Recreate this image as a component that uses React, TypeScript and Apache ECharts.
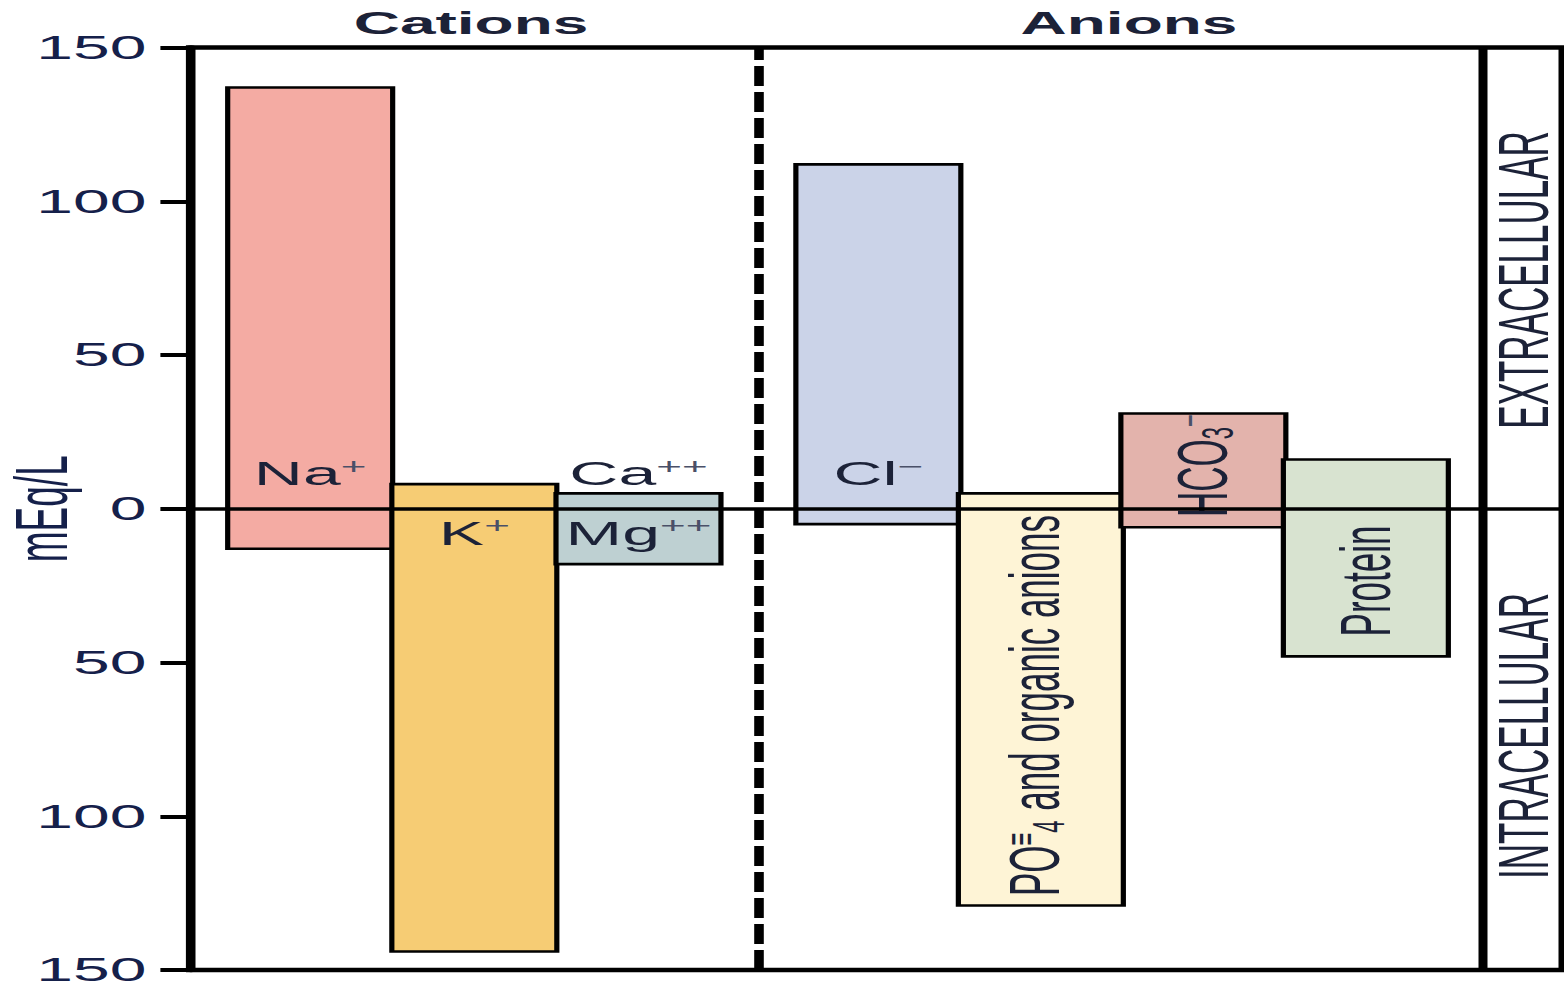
import React, { useEffect, useRef } from 'react';
import * as echarts from 'echarts';

// ---------- data ----------
const categories = ['Na+', 'K+', 'Ca++ / Mg++', 'Cl−', 'PO4≡ and organic anions', 'HCO3−', 'Protein'];
const groupNames = ['Cations', 'Anions'];
const categoryGroup = [0, 0, 0, 1, 1, 1, 1];
const extracellular = [137, 8, 5, 112, 5, 31, 16];
const intracellular = [13, 144, 18, 5, 129, 6, 48];
const yTickValues = [-150, -100, -50, 0, 50, 100, 150];
const compartmentNames = ['EXTRACELLULAR', 'INTRACELLULAR'];
const axisTitle = 'mEq/L';

// ---------- styling / layout ----------
const FONT = "'Liberation Sans', Arial, Helvetica, sans-serif";
const TEXT = '#1c2238';
const TICK_TEXT = '#15204a';
const barColors = ['#F4ABA3', '#F6CC74', '#BED0D2', '#CBD3E8', '#FEF4D6', '#E3B3AC', '#D8E3D0'];
const STRETCH = 2; // the picture is stretched horizontally
const PAGE_W = 1564;
const PAGE_H = 987;
const W = PAGE_W / STRETCH;

// x axis in "bar width" units
const X_MAX = 8.32;
const BAR_W = 1.0;
const groupStart = [0.226, 3.67];
const groupStep = [0.995, 0.985];
const DIVIDER_X = 3.44;
const BOX_X = 7.83;

const barLabels: { text: string; y: number; rotate?: boolean; dx?: number }[][] = [
  [{ text: '{m|Na}{s|+}', y: 11.5 }],
  [{ text: '{m|K}{s|+}', y: -7.8 }],
  [{ text: '{m|Ca}{s|++}', y: 11.5 }, { text: '{m|Mg}{s|++}', y: -7.8 }],
  [{ text: '{m|Cl}{s|−}', y: 11.5 }],
  [{ text: '{r|PO}{p|≡}{b|4}{r| and organic anions}', y: -64, rotate: true, dx: -3 }],
  [{ text: '{r|HCO}{b|3}{s|−}', y: 14, rotate: true }],
  [{ text: '{r|Protein}', y: -23.5, rotate: true }],
];

const rich = {
  m: { fontSize: 34, lineHeight: 36, fontFamily: FONT, fill: TEXT },
  r: { fontSize: 35, lineHeight: 36, fontFamily: FONT, fill: TEXT },
  s: { fontSize: 22, lineHeight: 20, verticalAlign: 'top', fontFamily: FONT, fill: '#4a5068' },
  p: { fontSize: 22, lineHeight: 26, verticalAlign: 'top', fontFamily: FONT, fill: TEXT },
  b: { fontSize: 22, lineHeight: 8, verticalAlign: 'bottom', fontFamily: FONT, fill: TEXT },
};

export default function App() {
  const ref = useRef<HTMLDivElement>(null);

  useEffect(() => {
    document.body.style.overflow = 'hidden';
    const chart = echarts.init(ref.current!, undefined, { renderer: 'svg' });

    const counters = [0, 0];
    const seriesData = categories.map((_, i) => {
      const g = categoryGroup[i];
      const xs = groupStart[g] + counters[g] * groupStep[g];
      counters[g] += 1;
      return [xs, extracellular[i], intracellular[i]];
    });

    const sideText = (text: string, y: number) => ({
      type: 'text', x: 762, y, rotation: Math.PI / 2,
      style: { text, fontSize: 35, fontFamily: FONT, fill: TEXT, align: 'center', verticalAlign: 'middle', textAlign: 'center', textVerticalAlign: 'middle' },
    });
    const topText = (text: string, x: number) => ({
      type: 'text', x, y: 22.5,
      style: { text, fontSize: 32, fontWeight: 'bold', fontFamily: FONT, fill: TEXT, align: 'center', verticalAlign: 'middle', textAlign: 'center', textVerticalAlign: 'middle' },
    });

    const option: any = {
      animation: false,
      backgroundColor: '#ffffff',
      grid: {
        left: 95.2,
        right: 0.5,
        top: 47.5,
        bottom: 17,
        show: true,
        borderColor: '#000',
        borderWidth: 4.5,
        containLabel: false,
        outerBoundsMode: 'none',
      },
      xAxis: {
        type: 'value',
        min: 0,
        max: X_MAX,
        show: false,
      },
      yAxis: {
        type: 'value',
        min: yTickValues[0],
        max: yTickValues[yTickValues.length - 1],
        interval: yTickValues[1] - yTickValues[0],
        name: axisTitle,
        nameLocation: 'middle',
        nameRotate: 90,
        nameGap: 56,
        nameMoveOverlap: false,
        nameTextStyle: { fontSize: 37, fontFamily: FONT, color: TICK_TEXT },
        axisLine: { show: true, onZero: false, lineStyle: { color: '#000', width: 4.5 } },
        axisTick: { show: true, length: 15, lineStyle: { color: '#000', width: 4 } },
        axisLabel: {
          margin: 22,
          fontSize: 33,
          fontFamily: FONT,
          color: TICK_TEXT,
          formatter: (v: number) => String(Math.abs(v)),
        },
        splitLine: { show: false },
      },
      graphic: [
        topText(groupNames[0], 235.5),
        topText(groupNames[1], 564.5),
        sideText(compartmentNames[0], 280),
        sideText(compartmentNames[1], 736),
      ],
      series: [
        {
          type: 'custom',
          z: 2,
          data: seriesData,
          renderItem: (params: any, api: any) => {
            const i = params.dataIndex;
            const x0 = api.value(0);
            const top = api.value(1);
            const bot = api.value(2);
            const p1 = api.coord([x0, top]);
            const p2 = api.coord([x0 + BAR_W, -bot]);
            const children: any[] = [
              {
                type: 'rect',
                shape: { x: p1[0], y: p1[1], width: p2[0] - p1[0], height: p2[1] - p1[1] },
                style: { fill: barColors[i], stroke: '#000', lineWidth: 2.6 },
              },
            ];
            for (const lab of barLabels[i]) {
              const c = api.coord([x0 + BAR_W / 2, lab.y]);
              children.push({
                type: 'text',
                x: c[0] + (lab.dx || 0),
                y: c[1],
                rotation: lab.rotate ? Math.PI / 2 : 0,
                z2: 10,
                style: {
                  text: lab.text,
                  rich,
                  fontSize: 34,
                  fontFamily: FONT,
                  fill: TEXT,
                  align: 'center',
                  verticalAlign: 'middle',
                },
              });
            }
            return { type: 'group', children };
          },
        },
        {
          type: 'line',
          z: 5,
          data: [],
          silent: true,
          markLine: {
            silent: true,
            symbol: ['none', 'none'],
            label: { show: false },
            emphasis: { disabled: true },
            data: [
              { yAxis: 0, lineStyle: { color: '#000', width: 3.5, type: 'solid' } },
              { xAxis: DIVIDER_X, lineStyle: { color: '#000', width: 4.8, type: [20, 6] } },
              { xAxis: BOX_X, lineStyle: { color: '#000', width: 4.5, type: 'solid' } },
            ],
          },
        },
      ],
    };

    chart.setOption(option);
    return () => chart.dispose();
  }, []);

  return (
    <div
      ref={ref}
      style={{
        position: 'absolute',
        left: 0,
        top: 0,
        width: W,
        height: PAGE_H,
        transform: `scaleX(${STRETCH})`,
        transformOrigin: '0 0',
      }}
    />
  );
}
